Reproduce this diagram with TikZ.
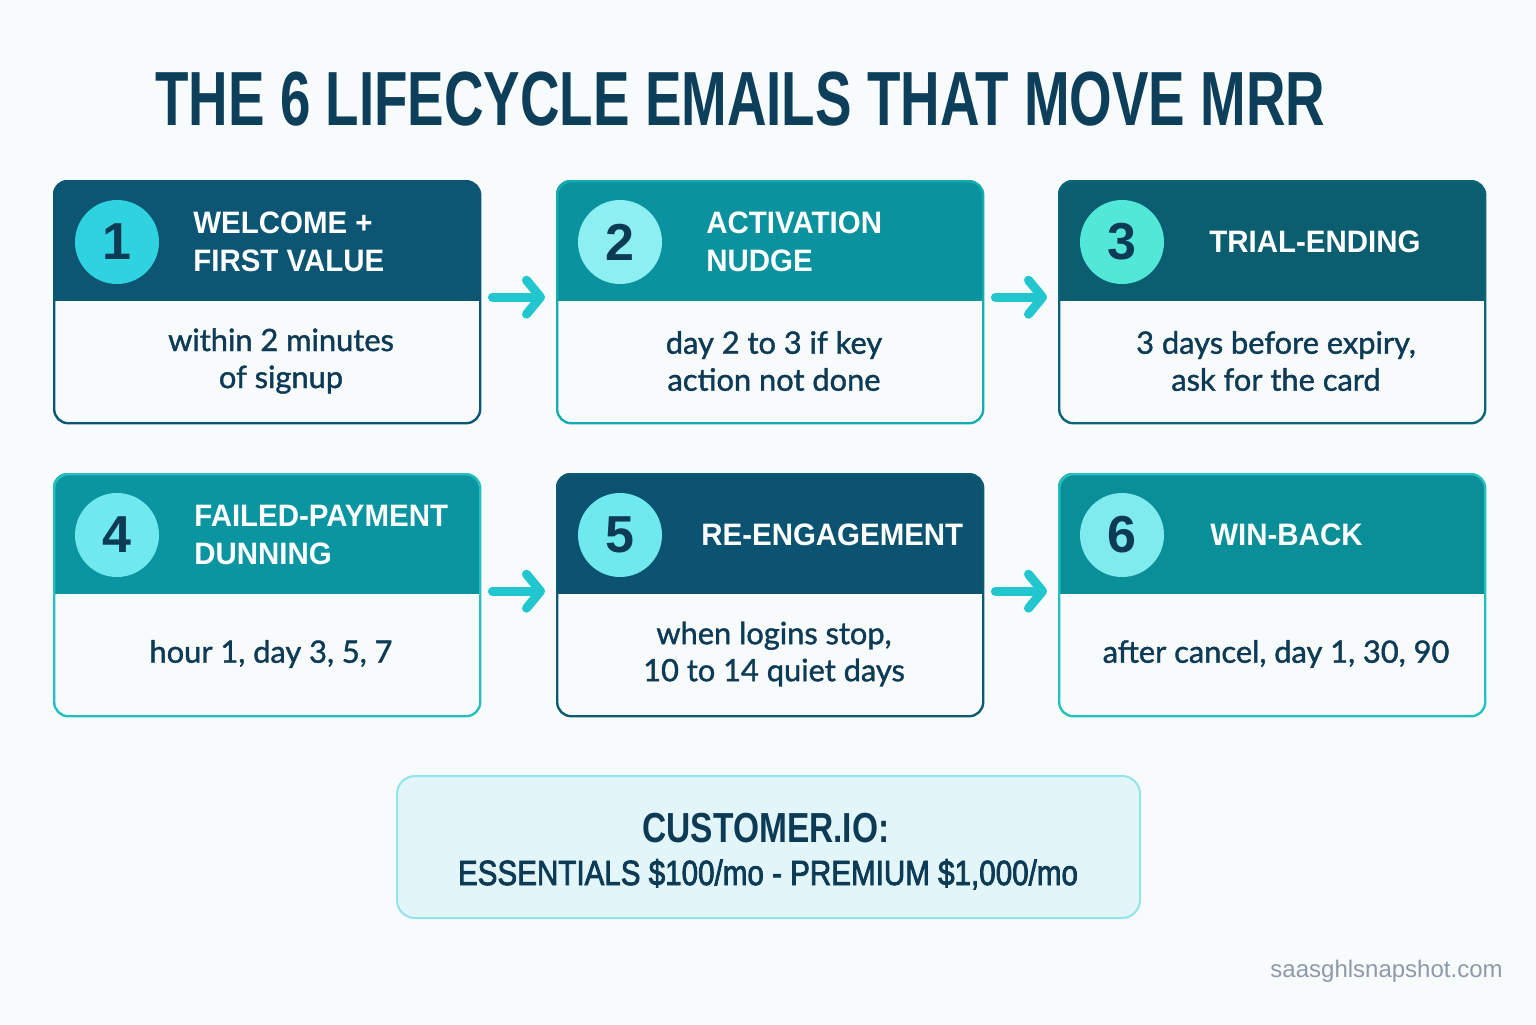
\documentclass[tikz,border=0pt]{standalone}
\usepackage{fontspec}
\usepackage{graphicx}
\setmainfont{Liberation Sans}
\newfontfamily\bodyf[FakeBold=1.3]{Lato}
\newfontfamily\headf[FakeStretch=0.95]{Liberation Sans}
\newfontfamily\boxf[FakeBold=2.5]{Liberation Sans}
\usetikzlibrary{arrows.meta,calc}
\definecolor{bg}{HTML}{F8FBFC}
\definecolor{navy}{HTML}{0D3A55}
\definecolor{titlec}{HTML}{0D3F5A}
\definecolor{hA}{HTML}{0C5674}
\definecolor{hB}{HTML}{0A929F}
\definecolor{hC}{HTML}{0A5E70}
\definecolor{hD}{HTML}{0B95A0}
\definecolor{hE}{HTML}{0B5370}
\definecolor{hF}{HTML}{0A8F99}
\definecolor{bA}{HTML}{0C5674}
\definecolor{bB}{HTML}{16AAB2}
\definecolor{bC}{HTML}{0D6478}
\definecolor{bD}{HTML}{25BFC2}
\definecolor{bE}{HTML}{0C5A70}
\definecolor{bF}{HTML}{22C1C0}
\definecolor{cA}{HTML}{2FD3E0}
\definecolor{cB}{HTML}{8EEFF2}
\definecolor{cC}{HTML}{52E8D8}
\definecolor{cD}{HTML}{6FE9EF}
\definecolor{cE}{HTML}{6FE8EE}
\definecolor{cF}{HTML}{80EBEE}
\definecolor{arrowc}{HTML}{22C6CE}
\definecolor{boxfill}{HTML}{E2F6F9}
\definecolor{boxline}{HTML}{92E4EA}
\definecolor{markc}{HTML}{8E99AB}
\tikzset{
  cardbox/.style={minimum width=213pt, minimum height=121pt, rounded corners=7pt, line width=1.2pt, inner sep=0pt},
  numcirc/.style={circle, minimum size=42pt, inner sep=0pt, text=navy, font=\bfseries\fontsize{26}{26}\selectfont},
  headtext/.style={anchor=west, align=left, text=white, inner sep=0pt, font=\headf\bfseries\fontsize{15.5}{19}\selectfont},
  bodytext/.style={align=center, text=navy, inner sep=0pt, font=\bodyf\fontsize{15.4}{18.5}\selectfont},
  flow/.style={draw=arrowc, line width=4.5pt, line cap=round, -{Straight Barb[length=7pt,width=17pt,round]}}
}
% #1 index, #2 x, #3 y, #4 header colour, #5 border colour, #6 circle colour, #7 title, #8 title x offset, #9 body
\newcommand\lccard[9]{%
  \begin{scope}
    \clip[rounded corners=7pt] (#2,#3) rectangle ++(426,242);
    \fill[#4] (#2,#3) rectangle ++(426,121);
  \end{scope}
  \node[cardbox, draw=#5, anchor=north west] (card#1) at (#2,#3) {};
  \node[numcirc, fill=#6] (num#1) at ($(#2,#3)+(64,62)$) {#1};
  \node[headtext] (head#1) at ($(#2,#3)+(#8,62)$) {#7};
  \node[bodytext] (body#1) at ($(#2,#3)+(218,181)$) {#9};
}
\begin{document}
\begin{tikzpicture}[x=0.5pt,y=-0.5pt]
\fill[bg] (0,0) rectangle (1536,1024);
\useasboundingbox (0,0) rectangle (1536,1024);

\node[anchor=base west, inner sep=0pt, text=titlec] (title) at (155,125)
  {\resizebox{585pt}{\height}{\fontsize{38.4}{40}\selectfont\bfseries THE 6 LIFECYCLE EMAILS THAT MOVE MRR}};

\lccard{1}{53}{180}{hA}{bA}{cA}{WELCOME +\\FIRST VALUE}{140}{\hspace*{10pt}within 2 minutes\\\hspace*{10pt}of signup}
\lccard{2}{556}{180}{hB}{bB}{cB}{ACTIVATION\\NUDGE}{150}{day 2 to 3 if key\\action not done}
\lccard{3}{1058}{180}{hC}{bC}{cC}{TRIAL-ENDING}{151}{3 days before expiry,\\ask for the card}
\lccard{4}{53}{473}{hD}{bD}{cD}{FAILED-PAYMENT\\DUNNING}{141}{hour 1, day 3, 5, 7}
\lccard{5}{556}{473}{hE}{bE}{cE}{RE-ENGAGEMENT}{145}{when logins stop,\\10 to 14 quiet days}
\lccard{6}{1058}{473}{hF}{bF}{cF}{WIN-BACK}{152}{after cancel, day 1, 30, 90}

\draw[flow] ([xshift=5.5pt,yshift=2.5pt]card1.east) -- ([xshift=-5.5pt,yshift=2.5pt]card2.west);
\draw[flow] ([xshift=5.5pt,yshift=2.5pt]card2.east) -- ([xshift=-5.5pt,yshift=2.5pt]card3.west);
\draw[flow] ([xshift=5.5pt,yshift=2pt]card4.east) -- ([xshift=-5.5pt,yshift=2pt]card5.west);
\draw[flow] ([xshift=5.5pt,yshift=2pt]card5.east) -- ([xshift=-5.5pt,yshift=2pt]card6.west);

\node[minimum width=371.5pt, minimum height=71pt, rounded corners=9pt, fill=boxfill, draw=boxline, line width=1pt, inner sep=0pt] (cio) at (768.5,847) {};
\node[anchor=base, inner sep=0pt, text=navy] (cioA) at (766,842)
  {\resizebox{123.5pt}{\height}{\fontsize{21}{22}\selectfont\bfseries CUSTOMER.IO:}};
\node[anchor=base, inner sep=0pt, text=navy] (cioB) at (768,885)
  {\resizebox{310pt}{\height}{\boxf\fontsize{17.5}{19}\selectfont ESSENTIALS \$100/mo - PREMIUM \$1,000/mo}};

\node[anchor=base east, inner sep=0pt, text=markc, font=\fontsize{12}{14}\selectfont] (mark) at (1503,977) {saasghlsnapshot.com};
\end{tikzpicture}
\end{document}
